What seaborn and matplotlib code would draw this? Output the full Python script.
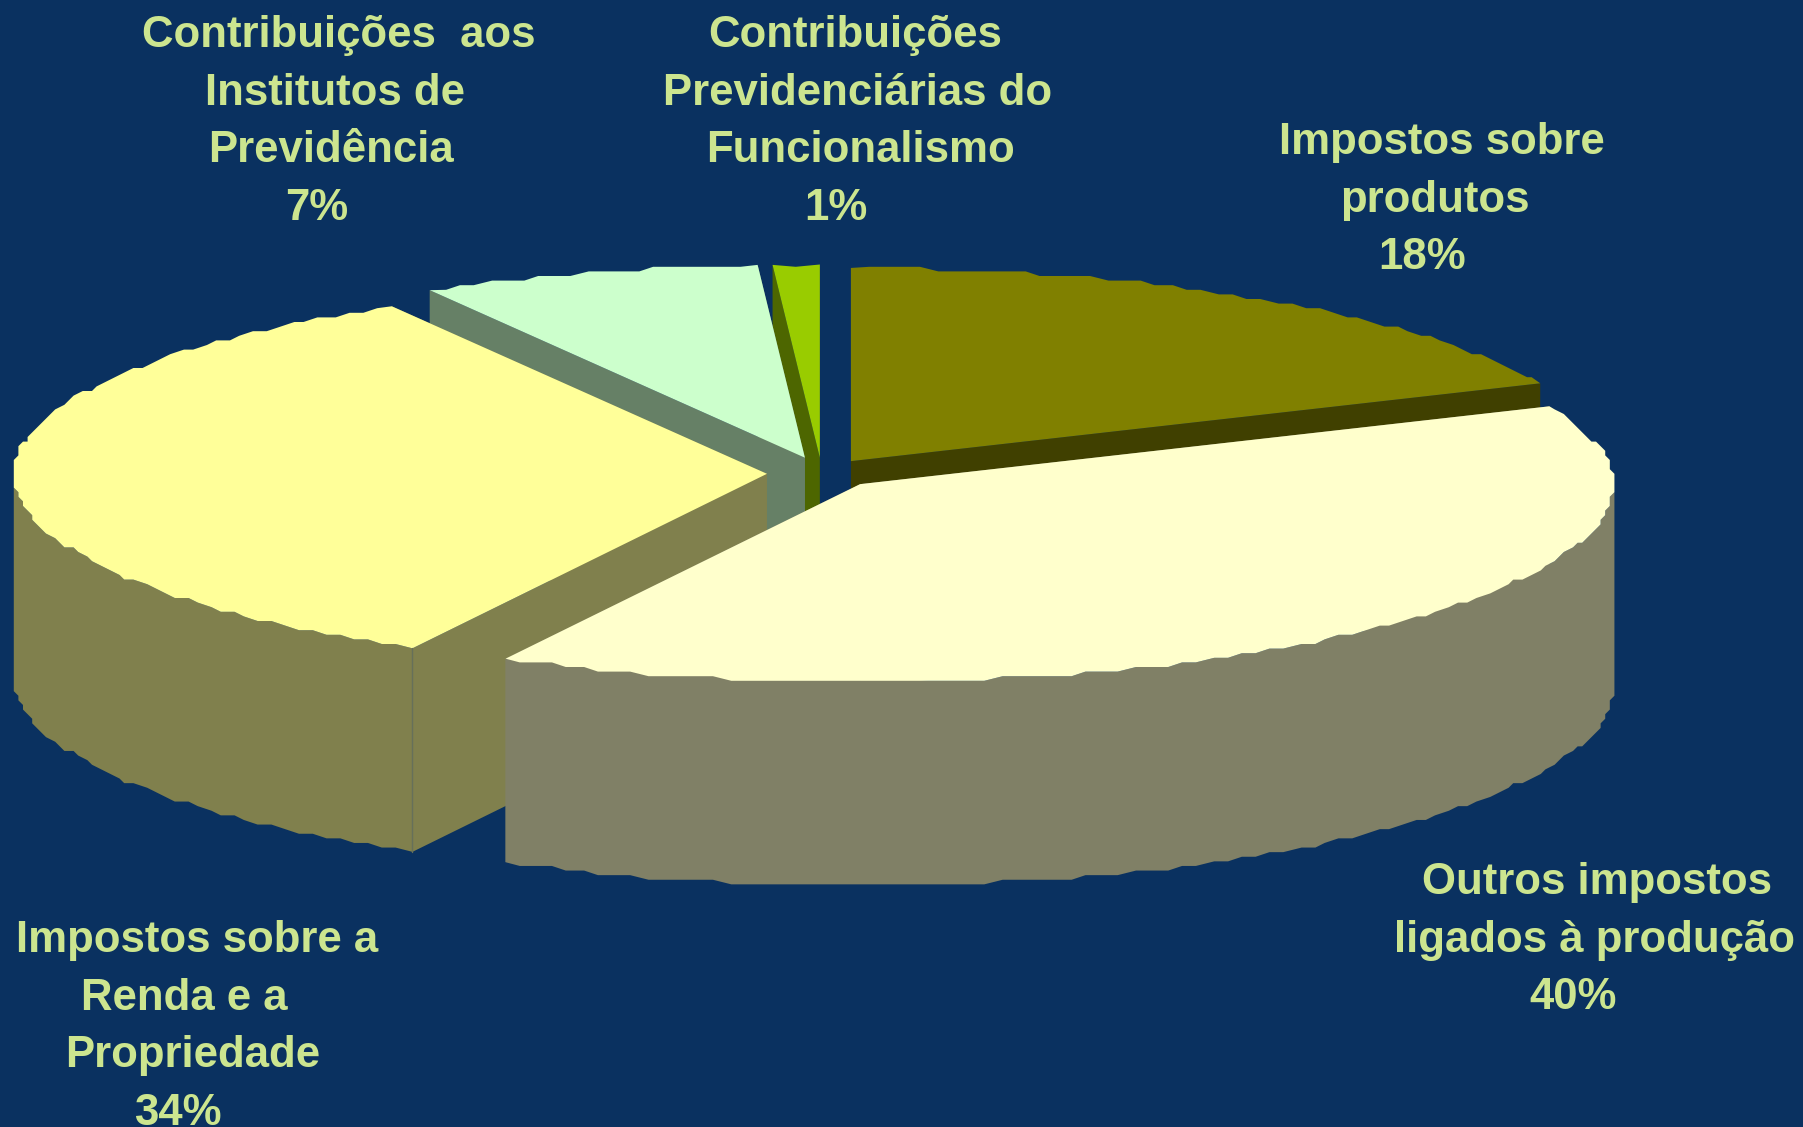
"""
Exploded 3D-look pie: composicao da carga tributaria.
Run: python3 plot.py
"""
import numpy as np
import matplotlib
matplotlib.use('Agg')
import matplotlib.pyplot as plt
import seaborn as sns

# Data, clockwise from 12 o'clock. Shares are read from the slice angles,
# the printed percentages are kept as they stand in the labels.
categories = ['Impostos sobre produtos', 'Outros impostos ligados à produção',
              'Impostos sobre a Renda e a Propriedade',
              'Contribuições aos Institutos de Previdência',
              'Contribuições Previdenciárias do Funcionalismo']
shares = [18.4, 39.4, 33.9, 7.3, 1.0]

label_lines = [
    ['Impostos sobre', 'produtos', '18%'],
    ['Outros impostos', 'ligados à produção', '40%'],
    ['Impostos sobre a', 'Renda e a', 'Propriedade', '34%'],
    ['Contribuições  aos', 'Institutos de', 'Previdência', '7%'],
    ['Contribuições', 'Previdenciárias do', 'Funcionalismo', '1%'],
]

# Styles and layout (axes run in the 1568x980 pixels of the shrunk picture)
BG = '#0A3160'
TEXT = '#CCE58F'
top_colors = ['#808000', '#FFFFCC', '#FFFF99', '#CCFFCC', '#99CC00']
side_colors = ['#404000', '#808066', '#80804D', '#668066', '#4D6600']
apexes = [(740, 401), (748, 421), (667, 412), (700, 398), (713, 398)]
label_x = [[1254, 1248, 1237], [1389, 1387, 1368],
           [171, 160, 168, 155], [295, 291, 288, 275], [744, 746, 748, 727]]
label_y = [[134, 184, 234], [777, 828, 877],
           [828, 878, 928, 978], [41, 91, 141, 191], [41, 91, 141, 191]]
RX, RY_BACK, RY_FRONT, DEPTH = 655, 168, 172, 177
DRAW_ORDER = [4, 3, 0, 2, 1]


def rough_arc(apex, start, end):
    # the source chart has chunky, badly rasterised arcs, so snap them to a grid
    n = max(int(abs(end - start) / 1.3), 1)
    t = np.radians(np.linspace(start, end, n + 1))
    s = np.sin(t)
    x = apex[0] + RX * np.cos(t)
    y = apex[1] - np.where(s > 0, RY_BACK, RY_FRONT) * s
    x[1:-1] = np.round(x[1:-1] / 4) * 4
    y[1:-1] = np.round(y[1:-1] / 4) * 4
    return x, y, s


def draw_slice(ax, i, start, end):
    x, y, s = rough_arc(apexes[i], start, end)
    ax0, ay0 = apexes[i]
    side = dict(color=side_colors[i], lw=0)
    # cut faces first, then the outer wall (front half only), then the top
    ax.fill([ax0, x[0], x[0], ax0], [ay0, y[0], y[0] + DEPTH, ay0 + DEPTH], **side)
    ax.fill([ax0, x[-1], x[-1], ax0], [ay0, y[-1], y[-1] + DEPTH, ay0 + DEPTH], **side)
    front = s <= 0.03
    if front.sum() > 1:
        fx, fy = x[front], y[front]
        ax.fill(np.r_[fx, fx[::-1]], np.r_[fy, fy[::-1] + DEPTH], **side)
    ax.fill(np.r_[ax0, x], np.r_[ay0, y], color=top_colors[i], lw=0)
    return x, y


def main():
    sns.set_theme(style='white')
    plt.rcParams['font.family'] = ['Liberation Sans', 'DejaVu Sans']

    fig = plt.figure(figsize=(18.03, 11.27), dpi=100, facecolor=BG)
    ax = fig.add_axes([0, 0, 1, 1], facecolor=BG)
    ax.set_xlim(0, 1568)
    ax.set_ylim(980, 0)
    ax.axis('off')

    ends = 90 - np.cumsum(shares) * 3.6
    starts = np.r_[90, ends[:-1]]
    for i in DRAW_ORDER:
        x, y = draw_slice(ax, i, starts[i], ends[i])
        if i == 2:
            # thin seam on the front corner of the big yellow slice
            ax.plot([x[0], x[0]], [y[0], y[0] + DEPTH], color='#66705A', lw=1)

    for lines, xs, ys in zip(label_lines, label_x, label_y):
        for line, lx, ly in zip(lines, xs, ys):
            ax.text(lx, ly, line, color=TEXT, fontsize=31.5, fontweight='bold',
                    ha='center', va='baseline')

    fig.savefig('out.png', dpi=100, facecolor=BG)
    plt.close(fig)


if __name__ == '__main__':
    main()
